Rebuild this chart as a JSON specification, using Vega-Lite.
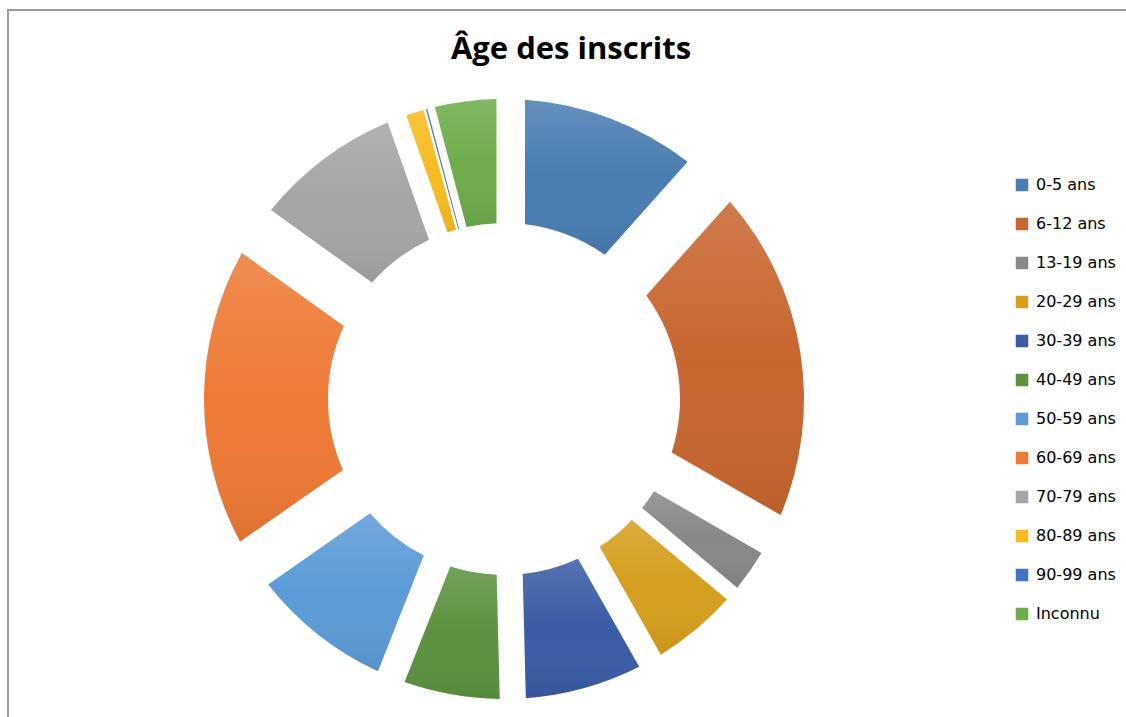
{
  "$schema": "https://vega.github.io/schema/vega-lite/v6.json",
  "width": 1126,
  "height": 720,
  "autosize": {"type": "none"},
  "padding": {"left": 8, "top": 10, "right": 0, "bottom": 0},
  "background": "white",
  "title": {
    "text": "Âge des inscrits",
    "font": "Open Sans",
    "fontSize": 31,
    "fontWeight": "bold",
    "color": "#000000",
    "anchor": "middle",
    "baseline": "alphabetic",
    "offset": -81
  },
  "config": {"view": {"stroke": null}},
  "data": {
    "values": [
      {"ordre": 1, "age": "0-5 ans", "pct": 11.6},
      {"ordre": 2, "age": "6-12 ans", "pct": 21.7},
      {"ordre": 3, "age": "13-19 ans", "pct": 2.8},
      {"ordre": 4, "age": "20-29 ans", "pct": 5.7},
      {"ordre": 5, "age": "30-39 ans", "pct": 7.8},
      {"ordre": 6, "age": "40-49 ans", "pct": 6.4},
      {"ordre": 7, "age": "50-59 ans", "pct": 9.3},
      {"ordre": 8, "age": "60-69 ans", "pct": 19.6},
      {"ordre": 9, "age": "70-79 ans", "pct": 9.7},
      {"ordre": 10, "age": "80-89 ans", "pct": 1.2},
      {"ordre": 11, "age": "90-99 ans", "pct": 0.1},
      {"ordre": 12, "age": "Inconnu", "pct": 4.1}
    ]
  },
  "layer": [
    {
      "data": {"values": [{}]},
      "mark": {"type": "rect", "fill": null, "stroke": "#9c9c9c", "strokeWidth": 2},
      "encoding": {}
    },
    {
      "mark": {
        "type": "arc",
        "innerRadius": 176,
        "outerRadius": 300,
        "x": 496,
        "y": 389,
        "padAngle": {"expr": "2*asin(0.1696*sin(datum.pct*PI/100))"}
      },
      "encoding": {
        "theta": {"field": "pct", "type": "quantitative", "stack": true},
        "order": {"field": "ordre", "type": "quantitative"},
        "color": {
          "field": "age",
          "type": "nominal",
          "sort": null,
          "scale": {
            "domain": ["0-5 ans", "6-12 ans", "13-19 ans", "20-29 ans", "30-39 ans", "40-49 ans", "50-59 ans", "60-69 ans", "70-79 ans", "80-89 ans", "90-99 ans", "Inconnu"],
            "range": ["#4A7DB2", "#C8662F", "#888888", "#D59F1D", "#3A5CA5", "#5C9240", "#5C9BD7", "#EE7A35", "#A5A5A5", "#F8BC20", "#4472C4", "#6EAC4B"]
          },
          "legend": {
            "orient": "none",
            "legendX": 1006,
            "legendY": 167,
            "title": null,
            "padding": 0,
            "symbolType": "square",
            "symbolSize": 156,
            "symbolStrokeWidth": 0,
            "symbolOpacity": 1,
            "labelFont": "DejaVu Sans",
            "labelFontSize": 16,
            "labelColor": "#000000",
            "labelOffset": 6,
            "rowPadding": 23
          }
        }
      }
    },
    {
      "mark": {
        "type": "arc",
        "innerRadius": 176,
        "outerRadius": 300,
        "x": 496,
        "y": 389,
        "padAngle": {"expr": "2*asin(0.1696*sin(datum.pct*PI/100))"},
        "fill": {
          "gradient": "linear",
          "x1": 0, "y1": 0, "x2": 0, "y2": 1,
          "stops": [
            {"offset": 0, "color": "rgba(255,255,255,0.14)"},
            {"offset": 0.5, "color": "rgba(255,255,255,0)"},
            {"offset": 1, "color": "rgba(0,0,0,0.07)"}
          ]
        }
      },
      "encoding": {
        "theta": {"field": "pct", "type": "quantitative", "stack": true},
        "order": {"field": "ordre", "type": "quantitative"}
      }
    }
  ]
}
